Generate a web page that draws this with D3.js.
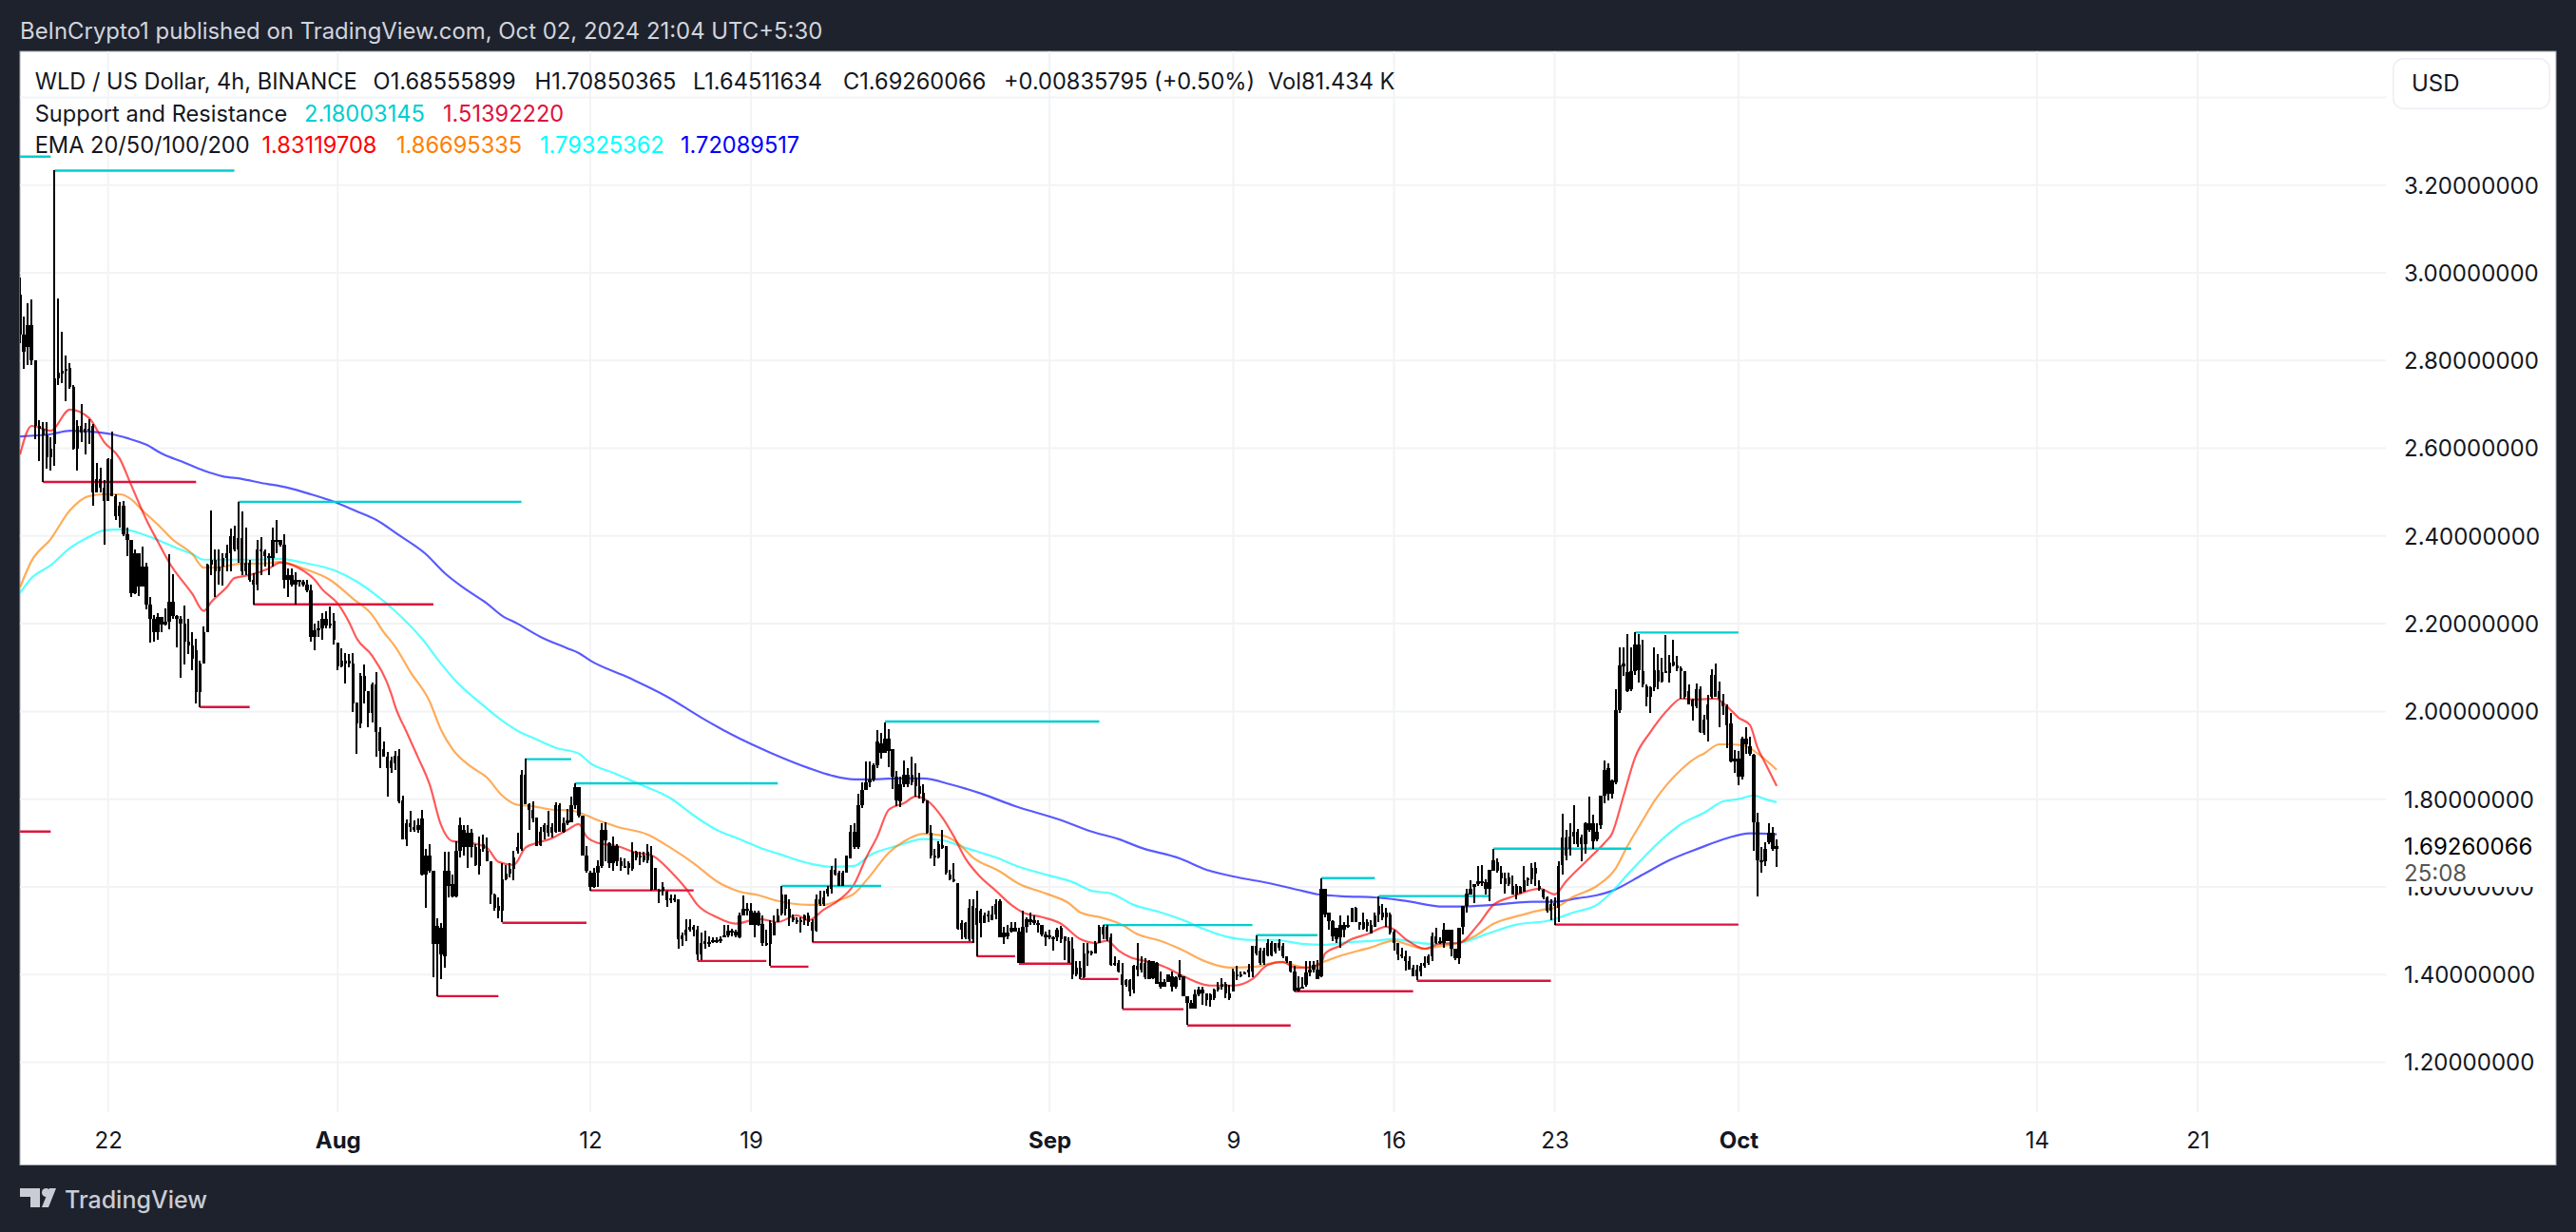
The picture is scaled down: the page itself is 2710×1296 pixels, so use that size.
<!DOCTYPE html>
<html><head><meta charset="utf-8">
<script src="https://cdn.jsdelivr.net/npm/d3@7"></script>
<style>html,body{margin:0;padding:0;background:#1e222d;overflow:hidden}svg{display:block}text{font-family:Inter,sans-serif}</style>
</head><body><svg id="c" width="2710" height="1296"></svg>
<script>
// 4h candles, [open, high, low, close], first bar 18 Jul 04:00 UTC
const candlesJul=[
[2.95,2.99,2.84,2.86],[2.86,2.90,2.78,2.82],[2.83,2.93,2.79,2.88],[2.88,2.94,2.79,2.80],[2.80,2.80,2.62,2.65],[2.65,2.665,2.57,2.645],[2.645,2.66,2.524,2.63],[2.63,2.66,2.553,2.58],[2.58,2.625,2.549,2.60],[2.61,3.233,2.56,2.76],
[2.76,2.942,2.744,2.773],[2.77,2.865,2.748,2.776],[2.776,2.811,2.708,2.78],[2.784,2.795,2.735,2.74],[2.74,2.745,2.596,2.60],[2.60,2.665,2.549,2.65],[2.65,2.70,2.615,2.635],[2.635,2.658,2.585,2.645],[2.645,2.667,2.61,2.64],[2.65,2.655,2.468,2.50],
[2.50,2.567,2.50,2.53],[2.53,2.556,2.50,2.51],[2.51,2.527,2.38,2.48],[2.48,2.578,2.48,2.575],[2.575,2.638,2.49,2.49],[2.49,2.495,2.437,2.445],[2.445,2.477,2.42,2.47],[2.47,2.48,2.40,2.405],[2.405,2.42,2.354,2.39],[2.39,2.39,2.26,2.27],
[2.27,2.37,2.268,2.36],[2.36,2.36,2.264,2.285],[2.285,2.376,2.285,2.33],[2.33,2.34,2.232,2.243],[2.243,2.26,2.156,2.21],[2.21,2.22,2.16,2.18],[2.18,2.224,2.163,2.215],[2.215,2.215,2.18,2.197],[2.197,2.235,2.195,2.205],[2.205,2.358,2.188,2.25],
[2.25,2.313,2.21,2.218],[2.218,2.22,2.145,2.21],[2.21,2.217,2.076,2.20],[2.20,2.242,2.107,2.16],[2.16,2.21,2.13,2.15],[2.15,2.18,2.094,2.12],[2.14,2.166,2.018,2.045],[2.045,2.116,2.01,2.11],[2.11,2.193,2.112,2.18],[2.18,2.337,2.19,2.335],
[2.335,2.459,2.31,2.345],[2.345,2.37,2.26,2.32],[2.32,2.37,2.29,2.33],[2.33,2.36,2.286,2.35],[2.35,2.38,2.32,2.36],[2.36,2.416,2.32,2.40],[2.40,2.423,2.365,2.37],[2.37,2.478,2.34,2.395],[2.395,2.456,2.31,2.32],[2.32,2.42,2.31,2.34],
[2.34,2.345,2.295,2.30],[2.30,2.315,2.244,2.29],[2.29,2.39,2.275,2.37],[2.37,2.398,2.31,2.365],[2.365,2.37,2.33,2.355],[2.355,2.36,2.31,2.35],[2.35,2.42,2.33,2.39],[2.39,2.436,2.36,2.39],[2.39,2.39,2.375,2.38],[2.38,2.405,2.28,2.30],
[2.30,2.325,2.26,2.31],[2.31,2.325,2.285,2.29],[2.29,2.318,2.244,2.30],[2.30,2.30,2.285,2.295],[2.295,2.30,2.285,2.29],[2.29,2.30,2.272,2.275],[2.275,2.29,2.16,2.17],[2.17,2.20,2.14,2.185],[2.185,2.206,2.17,2.19],[2.19,2.224,2.163,2.21],
[2.21,2.228,2.19,2.195],[2.195,2.239,2.19,2.20],[2.206,2.224,2.152,2.163]];
const candlesAug=[
[2.156,2.156,2.094,2.102],[2.102,2.143,2.10,2.116],[2.116,2.134,2.063,2.109],[2.109,2.131,2.10,2.116],[2.109,2.134,1.998,2.019],[2.02,2.02,1.903,1.972],[1.972,2.087,1.961,2.08],[2.08,2.107,2.019,2.047],[2.047,2.047,1.964,1.997],[1.997,2.066,1.975,2.062],
[2.062,2.09,1.896,1.954],[1.954,1.964,1.871,1.91],[1.914,1.932,1.896,1.896],[1.896,1.907,1.806,1.871],[1.871,1.896,1.861,1.889],[1.881,1.91,1.867,1.9],[1.9,1.914,1.791,1.795],[1.798,1.809,1.708,1.708],[1.708,1.753,1.694,1.744],[1.744,1.773,1.726,1.737],
[1.737,1.751,1.726,1.73],[1.73,1.755,1.723,1.741],[1.755,1.775,1.625,1.629],[1.629,1.686,1.553,1.672],[1.672,1.697,1.632,1.636],[1.636,1.636,1.394,1.47],[1.47,1.528,1.351,1.51],[1.506,1.517,1.39,1.445],[1.441,1.679,1.416,1.636],[1.636,1.679,1.575,1.603],
[1.607,1.628,1.575,1.578],[1.578,1.704,1.575,1.683],[1.683,1.759,1.668,1.741],[1.73,1.741,1.672,1.69],[1.69,1.741,1.643,1.723],[1.723,1.733,1.668,1.69],[1.69,1.697,1.647,1.65],[1.647,1.715,1.629,1.686],[1.686,1.719,1.68,1.697],[1.683,1.712,1.658,1.658],
[1.658,1.658,1.56,1.582],[1.582,1.585,1.546,1.553],[1.556,1.575,1.528,1.546],[1.546,1.654,1.519,1.618],[1.618,1.65,1.614,1.63],[1.63,1.654,1.622,1.64],[1.64,1.683,1.614,1.668],[1.683,1.723,1.676,1.69],[1.686,1.866,1.683,1.856],[1.856,1.892,1.788,1.788],
[1.788,1.791,1.73,1.775],[1.775,1.795,1.748,1.755],[1.759,1.759,1.694,1.694],[1.696,1.737,1.694,1.726],[1.726,1.744,1.708,1.741],[1.741,1.773,1.715,1.723],[1.723,1.744,1.712,1.737],[1.726,1.793,1.723,1.787],[1.787,1.791,1.726,1.726],[1.726,1.759,1.723,1.744],
[1.744,1.777,1.741,1.751],[1.748,1.806,1.748,1.787],[1.787,1.836,1.777,1.827],[1.827,1.827,1.758,1.762],[1.762,1.762,1.672,1.672],[1.672,1.694,1.632,1.636],[1.632,1.636,1.591,1.60],[1.60,1.643,1.598,1.632],[1.632,1.661,1.60,1.648],[1.648,1.744,1.643,1.73],
[1.73,1.748,1.658,1.705],[1.70,1.701,1.643,1.655],[1.655,1.715,1.636,1.693],[1.693,1.697,1.647,1.658],[1.658,1.668,1.636,1.647],[1.647,1.665,1.643,1.643],[1.643,1.658,1.629,1.654],[1.64,1.701,1.636,1.679],[1.679,1.683,1.661,1.668],[1.668,1.679,1.65,1.672],
[1.672,1.679,1.657,1.661],[1.661,1.697,1.654,1.679],[1.672,1.693,1.591,1.594],[1.643,1.643,1.594,1.594],[1.594,1.596,1.562,1.591],[1.591,1.61,1.58,1.60],[1.59,1.592,1.555,1.57],[1.57,1.582,1.562,1.573],[1.573,1.582,1.565,1.57],[1.571,1.571,1.46,1.481],
[1.481,1.495,1.466,1.49],[1.49,1.526,1.476,1.503],[1.503,1.526,1.498,1.509],[1.509,1.513,1.488,1.503],[1.503,1.51,1.432,1.445],[1.445,1.495,1.434,1.473],[1.47,1.50,1.459,1.476],[1.474,1.488,1.463,1.47],[1.476,1.484,1.473,1.479],[1.479,1.484,1.473,1.476],
[1.476,1.488,1.473,1.48],[1.484,1.513,1.484,1.49],[1.49,1.513,1.484,1.50],[1.50,1.505,1.488,1.497],[1.497,1.502,1.484,1.49],[1.484,1.542,1.483,1.534],[1.534,1.58,1.534,1.55],[1.55,1.564,1.535,1.548],[1.546,1.564,1.513,1.513],[1.513,1.546,1.484,1.542],
[1.542,1.546,1.51,1.513],[1.515,1.535,1.466,1.473],[1.473,1.502,1.466,1.47],[1.47,1.524,1.419,1.517],[1.49,1.535,1.491,1.52],[1.52,1.549,1.52,1.535],[1.54,1.602,1.535,1.582],[1.582,1.582,1.535,1.55],[1.55,1.571,1.51,1.53],[1.53,1.538,1.52,1.525],
[1.525,1.53,1.516,1.52],[1.52,1.53,1.495,1.524],[1.524,1.538,1.513,1.535],[1.535,1.542,1.51,1.52],[1.52,1.526,1.474,1.50],[1.50,1.582,1.498,1.571],[1.571,1.592,1.556,1.56],[1.56,1.592,1.556,1.575],[1.585,1.603,1.578,1.596],[1.596,1.647,1.585,1.639],
[1.639,1.665,1.625,1.628],[1.632,1.636,1.601,1.603],[1.603,1.636,1.603,1.632],[1.632,1.672,1.632,1.672],[1.665,1.74,1.665,1.726],[1.69,1.744,1.686,1.726],[1.69,1.813,1.686,1.787],[1.787,1.838,1.78,1.82],[1.82,1.885,1.82,1.838],[1.838,1.885,1.827,1.845],
[1.845,1.881,1.841,1.878],[1.878,1.957,1.87,1.932],[1.906,1.95,1.892,1.928],[1.906,1.975,1.906,1.939],[1.91,1.96,1.874,1.939],[1.914,1.914,1.823,1.852],[1.852,1.865,1.784,1.798],[1.795,1.852,1.782,1.834],[1.834,1.888,1.827,1.856],[1.834,1.87,1.827,1.856],
[1.856,1.896,1.831,1.838],[1.829,1.881,1.805,1.849],[1.83,1.86,1.802,1.813],[1.815,1.834,1.791,1.796],[1.798,1.798,1.722,1.724],[1.724,1.74,1.665,1.672],[1.672,1.686,1.647,1.668],[1.668,1.704,1.665,1.697],[1.688,1.73,1.686,1.695],[1.692,1.693,1.628,1.632],
[1.628,1.639,1.614,1.618],[1.618,1.654,1.61,1.613],[1.608,1.608,1.502,1.504],[1.502,1.524,1.48,1.517],[1.517,1.52,1.48,1.484],[1.48,1.571,1.477,1.553],[1.556,1.572,1.473,1.48],[1.513,1.591,1.441,1.553],[1.545,1.549,1.484,1.517],[1.517,1.542,1.517,1.535],
[1.535,1.545,1.52,1.538],[1.524,1.556,1.524,1.538],[1.538,1.572,1.527,1.56],[1.567,1.572,1.484,1.484],[1.484,1.509,1.47,1.495],[1.495,1.513,1.48,1.488],[1.498,1.52,1.495,1.506],[1.506,1.52,1.498,1.499],[1.498,1.506,1.426,1.426],[1.426,1.545,1.426,1.509],
[1.509,1.531,1.495,1.527],[1.52,1.542,1.513,1.527],[1.524,1.535,1.513,1.517],[1.517,1.524,1.495,1.513],[1.513,1.513,1.488,1.491],[1.491,1.498,1.466,1.486]];
const candlesSep=[
[1.486,1.502,1.48,1.49],[1.484,1.488,1.455,1.484],[1.484,1.506,1.477,1.502],[1.48,1.511,1.473,1.506],[1.488,1.488,1.432,1.477],[1.477,1.486,1.426,1.426],[1.46,1.484,1.39,1.401],[1.401,1.43,1.397,1.415],[1.415,1.43,1.389,1.394],[1.394,1.473,1.391,1.448],
[1.448,1.473,1.419,1.455],[1.452,1.455,1.444,1.448],[1.448,1.477,1.448,1.473],[1.473,1.513,1.473,1.509],[1.509,1.513,1.48,1.491],[1.48,1.513,1.477,1.509],[1.484,1.493,1.419,1.423],[1.423,1.441,1.419,1.426],[1.426,1.434,1.405,1.406],[1.401,1.426,1.322,1.376],
[1.376,1.39,1.372,1.387],[1.387,1.39,1.35,1.361],[1.365,1.423,1.358,1.419],[1.419,1.473,1.397,1.412],[1.412,1.441,1.405,1.426],[1.426,1.437,1.39,1.394],[1.39,1.434,1.39,1.43],[1.43,1.43,1.39,1.392],[1.426,1.428,1.379,1.379],[1.383,1.408,1.369,1.372],
[1.372,1.39,1.372,1.383],[1.383,1.401,1.383,1.401],[1.397,1.408,1.361,1.372],[1.372,1.397,1.369,1.394],[1.394,1.434,1.387,1.401],[1.397,1.397,1.35,1.35],[1.35,1.35,1.285,1.336],[1.336,1.343,1.322,1.322],[1.322,1.365,1.322,1.354],[1.354,1.372,1.35,1.365],
[1.365,1.372,1.332,1.358],[1.358,1.358,1.329,1.343],[1.343,1.358,1.327,1.354],[1.347,1.369,1.343,1.365],[1.365,1.383,1.361,1.372],[1.372,1.391,1.365,1.379],[1.379,1.383,1.347,1.358],[1.358,1.376,1.343,1.347],[1.361,1.413,1.361,1.408],[1.40,1.419,1.387,1.396],
[1.396,1.408,1.394,1.401],[1.401,1.408,1.40,1.405],[1.405,1.425,1.394,1.412],[1.408,1.466,1.394,1.466],[1.466,1.489,1.444,1.448],[1.455,1.462,1.423,1.426],[1.426,1.462,1.423,1.455],[1.444,1.48,1.441,1.473],[1.444,1.477,1.441,1.473],[1.473,1.473,1.448,1.452],
[1.462,1.48,1.455,1.473],[1.466,1.473,1.437,1.441],[1.441,1.441,1.426,1.43],[1.43,1.43,1.405,1.408],[1.408,1.419,1.361,1.363],[1.363,1.397,1.361,1.37],[1.37,1.394,1.368,1.372],[1.376,1.43,1.372,1.405],[1.405,1.43,1.397,1.412],[1.412,1.43,1.405,1.423],
[1.412,1.433,1.39,1.39],[1.397,1.62,1.394,1.596],[1.596,1.596,1.531,1.538],[1.542,1.542,1.502,1.522],[1.522,1.524,1.477,1.487],[1.506,1.506,1.473,1.48],[1.484,1.535,1.462,1.513],[1.513,1.52,1.484,1.502],[1.51,1.535,1.506,1.513],[1.52,1.553,1.52,1.553],
[1.553,1.555,1.52,1.52],[1.52,1.52,1.502,1.513],[1.505,1.542,1.502,1.52],[1.51,1.527,1.499,1.52],[1.493,1.524,1.493,1.513],[1.509,1.542,1.509,1.535],[1.538,1.579,1.52,1.556],[1.531,1.56,1.524,1.542],[1.542,1.553,1.509,1.531],[1.536,1.542,1.491,1.496],
[1.499,1.502,1.455,1.473],[1.473,1.473,1.433,1.447],[1.447,1.462,1.437,1.441],[1.441,1.455,1.41,1.43],[1.43,1.441,1.412,1.412],[1.415,1.423,1.397,1.397],[1.397,1.423,1.387,1.412],[1.408,1.426,1.397,1.419],[1.419,1.441,1.415,1.426],[1.426,1.446,1.422,1.441],
[1.441,1.495,1.43,1.488],[1.473,1.506,1.47,1.488],[1.473,1.484,1.47,1.477],[1.473,1.517,1.462,1.502],[1.477,1.502,1.477,1.502],[1.502,1.502,1.441,1.459],[1.459,1.459,1.433,1.437],[1.437,1.506,1.425,1.506],[1.509,1.556,1.491,1.556],[1.556,1.596,1.542,1.585],
[1.582,1.615,1.582,1.596],[1.6,1.607,1.563,1.607],[1.607,1.647,1.603,1.612],[1.612,1.65,1.603,1.61],[1.61,1.618,1.582,1.596],[1.596,1.639,1.567,1.639],[1.636,1.686,1.636,1.661],[1.657,1.665,1.632,1.636],[1.632,1.647,1.607,1.62],[1.62,1.632,1.585,1.607],
[1.607,1.632,1.603,1.621],[1.603,1.625,1.582,1.582],[1.582,1.607,1.571,1.603],[1.585,1.603,1.585,1.6],[1.59,1.647,1.589,1.614],[1.614,1.622,1.603,1.619],[1.617,1.654,1.607,1.643],[1.63,1.657,1.603,1.643],[1.603,1.614,1.592,1.596],[1.593,1.596,1.571,1.575],
[1.575,1.578,1.542,1.546],[1.546,1.571,1.524,1.56],[1.557,1.575,1.513,1.564],[1.553,1.658,1.52,1.647],[1.65,1.766,1.629,1.712],[1.712,1.73,1.661,1.672],[1.686,1.744,1.672,1.715],[1.715,1.786,1.697,1.726],[1.726,1.733,1.69,1.697],[1.697,1.719,1.658,1.712],
[1.697,1.748,1.676,1.744],[1.744,1.806,1.726,1.73],[1.704,1.764,1.686,1.744],[1.708,1.744,1.704,1.726],[1.74,1.809,1.733,1.809],[1.809,1.889,1.791,1.867],[1.813,1.881,1.798,1.871],[1.813,1.845,1.802,1.842],[1.838,2.051,1.834,2.004],[2.004,2.145,1.997,2.105],
[2.109,2.145,2.08,2.102],[2.09,2.177,2.044,2.047],[2.05,2.145,2.047,2.091],[2.091,2.181,2.084,2.152],[2.152,2.177,2.065,2.094],[2.092,2.163,2.055,2.062],[2.058,2.062,2.011,2.033],[2.033,2.058,1.997,2.055],[2.055,2.145,2.047,2.094],[2.069,2.13,2.051,2.094],
[2.069,2.123,2.065,2.089],[2.089,2.174,2.087,2.092],[2.087,2.128,2.065,2.112],[2.104,2.163,2.102,2.114],[2.104,2.127,2.092,2.099],[2.099,2.102,2.029,2.091],[2.091,2.092,2.029,2.033],[2.047,2.062,2.015,2.015],[2.026,2.029,1.979,2.011],[2.011,2.063,2.008,2.051],
[2.051,2.058,1.95,1.954],[1.95,1.993,1.946,1.982],[1.982,2.037,1.932,2.015],[2.033,2.096,2.029,2.084],[2.084,2.109,2.033,2.033],[2.047,2.069,1.964,2.029],[2.022,2.04,1.993,2.011],[2.011,2.015,1.917,1.968],[1.972,1.997,1.883,1.885],[1.892,1.912,1.86,1.885]];
const candlesOct=[
[1.892,1.91,1.831,1.852],[1.852,1.943,1.845,1.939],[1.939,1.964,1.903,1.925],[1.921,1.943,1.9,1.903],[1.902,1.903,1.683,1.748],[1.748,1.77,1.578,1.661],[1.661,1.69,1.632,1.658],[1.658,1.701,1.647,1.686],[1.701,1.744,1.697,1.723],[1.723,1.737,1.683,1.686],[1.6856,1.7085,1.6451,1.6926]];

// moving averages: bar number and price at each read point
const ema20Bars=[0,3,8,13,18,22,26,29,33,36,39,45,48,50,54,56,60,65,68,73,77,79,83,86,88,92,97,98,101,104,107,110,113,118,122,125,129,132,135,139,143,146,148,151,156,161,165,170,174,177,182,187,193,198,203,206,210,214,218,221,224,227,231,234,237,241,244,247,251,255,259,262,267,272,277,281,284,287,290,295,299,304,311,317,322,326,330,333,337,340,341,345,348,352,357,359,362,367,371,376,381,385,390,394,397,401,404,410,414,416,419,422,426,431,434,438,443,447,449,452,454,456,459];
const ema20Vals=[2.586,2.651,2.640,2.688,2.669,2.614,2.577,2.517,2.437,2.387,2.339,2.268,2.229,2.250,2.283,2.304,2.311,2.326,2.339,2.326,2.300,2.278,2.246,2.203,2.166,2.127,2.040,2.012,1.953,1.895,1.834,1.741,1.704,1.700,1.689,1.657,1.650,1.689,1.700,1.711,1.730,1.743,1.715,1.700,1.693,1.678,1.672,1.635,1.596,1.559,1.531,1.516,1.527,1.520,1.535,1.524,1.548,1.570,1.607,1.665,1.715,1.776,1.791,1.806,1.797,1.758,1.715,1.665,1.622,1.591,1.559,1.542,1.531,1.516,1.481,1.472,1.477,1.455,1.440,1.429,1.418,1.396,1.375,1.375,1.390,1.422,1.429,1.416,1.416,1.427,1.448,1.466,1.481,1.492,1.509,1.503,1.481,1.459,1.470,1.472,1.514,1.559,1.578,1.591,1.596,1.583,1.613,1.665,1.700,1.722,1.808,1.895,1.953,2.008,2.029,2.027,2.029,2.003,1.986,1.969,1.917,1.882,1.830];
const ema50Bars=[0,3,8,13,18,22,26,29,32,36,40,45,48,51,58,63,68,74,81,87,92,95,98,102,107,110,113,118,122,126,130,134,139,144,148,151,156,164,170,176,182,188,193,197,206,210,214,218,222,227,231,236,241,245,249,256,261,268,274,277,283,288,292,298,303,310,316,323,329,336,340,344,353,359,362,367,372,376,380,385,392,398,401,406,412,417,420,424,427,434,438,440,444,447,451,454,459];
const ema50Vals=[2.283,2.343,2.393,2.458,2.491,2.495,2.495,2.484,2.458,2.426,2.391,2.359,2.328,2.328,2.337,2.337,2.341,2.326,2.300,2.257,2.220,2.181,2.148,2.090,2.023,1.958,1.914,1.873,1.849,1.808,1.787,1.784,1.776,1.774,1.763,1.752,1.737,1.719,1.689,1.654,1.613,1.589,1.581,1.570,1.559,1.559,1.570,1.585,1.624,1.678,1.704,1.721,1.717,1.700,1.667,1.635,1.607,1.585,1.563,1.542,1.529,1.513,1.492,1.477,1.459,1.429,1.416,1.418,1.429,1.416,1.427,1.440,1.462,1.477,1.470,1.459,1.466,1.472,1.487,1.516,1.535,1.548,1.552,1.578,1.602,1.643,1.693,1.752,1.795,1.867,1.895,1.904,1.925,1.925,1.921,1.904,1.867];
const ema100Bars=[0,3,8,13,18,22,27,32,36,41,45,48,54,61,68,74,82,88,92,98,105,110,114,121,126,130,135,140,146,149,155,162,170,176,182,188,194,198,206,212,218,222,229,236,241,247,255,261,268,275,280,285,291,298,304,309,315,322,328,335,341,347,354,359,364,369,376,383,391,400,406,412,416,420,424,429,434,440,445,449,453,456,459];
const ema100Vals=[2.270,2.304,2.333,2.372,2.398,2.413,2.415,2.404,2.391,2.372,2.359,2.346,2.346,2.346,2.348,2.339,2.322,2.296,2.272,2.229,2.166,2.109,2.068,2.014,1.979,1.956,1.936,1.917,1.904,1.882,1.860,1.834,1.802,1.763,1.730,1.709,1.687,1.676,1.654,1.646,1.648,1.672,1.693,1.709,1.706,1.689,1.667,1.646,1.628,1.611,1.591,1.585,1.559,1.542,1.524,1.505,1.487,1.479,1.479,1.470,1.468,1.474,1.477,1.481,1.474,1.470,1.472,1.492,1.514,1.524,1.542,1.559,1.589,1.628,1.665,1.708,1.743,1.769,1.795,1.800,1.808,1.800,1.793];
const ema200Bars=[0,8,13,18,24,28,33,37,43,48,53,58,63,70,76,82,88,93,99,106,111,116,122,126,130,136,143,146,149,159,169,178,186,196,206,212,218,222,229,236,243,251,260,272,280,287,293,303,310,318,326,335,339,347,354,362,372,376,385,395,401,407,412,416,424,431,439,446,452,459];
const ema200Vals=[2.627,2.632,2.640,2.638,2.632,2.623,2.608,2.588,2.567,2.549,2.536,2.530,2.521,2.510,2.495,2.478,2.456,2.437,2.402,2.359,2.315,2.281,2.246,2.218,2.200,2.170,2.144,2.133,2.116,2.077,2.034,1.986,1.947,1.906,1.871,1.854,1.845,1.845,1.847,1.847,1.834,1.813,1.784,1.752,1.726,1.709,1.689,1.665,1.639,1.622,1.609,1.591,1.583,1.578,1.576,1.568,1.555,1.555,1.559,1.566,1.566,1.574,1.581,1.591,1.628,1.661,1.689,1.711,1.722,1.720];

// pivot levels: first bar, last bar, price
const resistanceStart=[0,9,57,132,145,199,226,283,323,340,355,385,422];
const resistanceEnd=[8,56,131,144,198,225,282,322,339,354,384,421,449];
const resistancePrice=[3.265,3.233,2.478,1.891,1.836,1.602,1.977,1.513,1.490,1.620,1.579,1.687,2.180];
const supportStart=[0,6,47,61,109,126,149,177,196,207,250,261,277,288,305,333,365,401];
const supportEnd=[8,46,60,108,125,148,176,195,206,249,260,275,287,304,332,364,400,449];
const supportPrice=[1.726,2.523,2.010,2.244,1.351,1.518,1.592,1.431,1.418,1.474,1.442,1.425,1.390,1.321,1.284,1.362,1.386,1.514];

const priceTicks=[3.4,3.2,3.0,2.8,2.6,2.4,2.2,2.0,1.8,1.6,1.4,1.2];
const priceLabelTicks=[3.2,3.0,2.8,2.6,2.4,2.2,2.0,1.8,1.6,1.4,1.2];
const dateTicks=[[2024,6,22,"22"],[2024,7,1,"Aug"],[2024,7,12,"12"],[2024,7,19,"19"],[2024,8,1,"Sep"],[2024,8,9,"9"],[2024,8,16,"16"],[2024,8,23,"23"],[2024,9,1,"Oct"],[2024,9,14,"14"],[2024,9,21,"21"]];
const lastPrice=1.69260066, lastPriceLabel="1.69260066", countdown="25:08";
const publishLine="BeInCrypto1 published on TradingView.com, Oct 02, 2024 21:04 UTC+5:30";
const legendOhlc=["WLD / US Dollar, 4h, BINANCE","O1.68555899","H1.70850365","L1.64511634","C1.69260066","+0.00835795 (+0.50%)","Vol81.434 K"];
const legendSr=["Support and Resistance","2.18003145","1.51392220"];
const legendEma=["EMA 20/50/100/200","1.83119708","1.86695335","1.79325362","1.72089517"];

const BG="#1e222d",INK="#131722",GRID="#f2f3f5";
const TEAL="#00ced1",CRIMSON="#dc143c",RED="#ff0000",ORANGE="#ff8000",CYAN="#00ffff",BLUE="#0000ff";

const candles=[...candlesJul,...candlesAug,...candlesSep,...candlesOct];
const barTime=i=>new Date(Date.UTC(2024,6,18,4)+i*4*3600e3);
const x=d3.scaleUtc().domain([new Date(Date.UTC(2024,6,22)),new Date(Date.UTC(2024,9,21))]).range([113.7,2312]);
const y=d3.scaleLinear().domain([3.2,1.2]).range([194.7,1117.5]);
const panel={l:21,t:54,r:2689,b:1225.5,plotR:2510,plotB:1170};

const svg=d3.select("#c");
svg.append("rect").attr("width",2710).attr("height",1296).attr("fill",BG);
svg.append("text").attr("x",21).attr("y",32).attr("dominant-baseline","central").attr("font-size",23.9).attr("fill","#d1d4dc").text(publishLine);
svg.append("rect").attr("x",panel.l).attr("y",panel.t).attr("width",panel.r-panel.l).attr("height",panel.b-panel.t).attr("fill","#fff").attr("stroke","#a3a6af").attr("stroke-width",1);

svg.append("defs").append("clipPath").attr("id","plot").append("rect").attr("x",panel.l).attr("y",panel.t).attr("width",panel.plotR-panel.l).attr("height",panel.plotB-panel.t);
const plot=svg.append("g").attr("clip-path","url(#plot)");

plot.append("g").selectAll("line").data(priceTicks).join("line")
 .attr("x1",panel.l).attr("x2",panel.plotR).attr("y1",d=>y(d)).attr("y2",d=>y(d)).attr("stroke",GRID).attr("stroke-width",2);
const dateOf=d=>new Date(Date.UTC(d[0],d[1],d[2]));
plot.append("g").selectAll("line").data(dateTicks).join("line")
 .attr("x1",d=>x(dateOf(d))).attr("x2",d=>x(dateOf(d))).attr("y1",panel.t).attr("y2",panel.plotB).attr("stroke",GRID).attr("stroke-width",2);

function ema(bars,vals,color){
  const line=d3.line().x(d=>x(barTime(d[0]))).y(d=>y(d[1])).curve(d3.curveMonotoneX);
  plot.append("path").attr("d",line(bars.map((b,i)=>[b,vals[i]]))).attr("fill","none").attr("stroke",color).attr("stroke-opacity",0.65).attr("stroke-width",2.2);
}
ema(ema200Bars,ema200Vals,BLUE);
ema(ema100Bars,ema100Vals,CYAN);
ema(ema50Bars,ema50Vals,ORANGE);
ema(ema20Bars,ema20Vals,RED);

function levels(starts,ends,prices,color){
  plot.append("g").selectAll("line").data(starts.map((s,i)=>[s,ends[i],prices[i]])).join("line")
   .attr("x1",d=>x(barTime(d[0]))).attr("x2",d=>x(barTime(d[1]))).attr("y1",d=>y(d[2])).attr("y2",d=>y(d[2]))
   .attr("stroke",color).attr("stroke-width",2.4);
}
levels(resistanceStart,resistanceEnd,resistancePrice,TEAL);
levels(supportStart,supportEnd,supportPrice,CRIMSON);

const cg=plot.append("g").attr("fill","#000").attr("shape-rendering","crispEdges");
cg.selectAll("rect.w").data(candles).join("rect").attr("class","w")
 .attr("x",(d,i)=>x(barTime(i))-1).attr("width",2)
 .attr("y",d=>y(d[1])).attr("height",d=>Math.max(1,y(d[2])-y(d[1])));
cg.selectAll("rect.b").data(candles).join("rect").attr("class","b")
 .attr("x",(d,i)=>x(barTime(i))-1.7).attr("width",3.4)
 .attr("y",d=>y(Math.max(d[0],d[3]))).attr("height",d=>Math.max(2,Math.abs(y(d[0])-y(d[3]))));

// price axis
const ya=d3.axisRight(y).tickValues(priceLabelTicks).tickFormat(d=>d.toFixed(8)).tickSize(0).tickPadding(0);
const yg=svg.append("g").attr("transform","translate(2529,0)").call(ya);
yg.select(".domain").remove();
yg.selectAll("text").attr("font-size",24).attr("fill",INK).attr("font-family","Inter,sans-serif").attr("dy","0.35em").attr("x",0);

// last price label
svg.append("rect").attr("x",2512).attr("y",y(lastPrice)-18).attr("width",176).attr("height",933-(y(lastPrice)-18)).attr("fill","#fff");
svg.append("text").attr("x",2529).attr("y",y(lastPrice)).attr("dy","0.35em").attr("font-size",24).attr("fill","#000").text(lastPriceLabel);
svg.append("text").attr("x",2529).attr("y",919).attr("dy","0.35em").attr("font-size",24).attr("fill","#555").text(countdown);

// USD button
svg.append("rect").attr("x",2517.7).attr("y",61.7).attr("width",164.5).attr("height",52.5).attr("rx",11).attr("fill","#fff").attr("stroke","#eceef3").attr("stroke-width",1.5);
svg.append("text").attr("x",2537).attr("y",88).attr("dy","0.35em").attr("font-size",24).attr("fill",INK).text("USD");

// time axis
const xa=d3.axisBottom(x).tickValues(dateTicks.map(dateOf)).tickFormat((d,i)=>dateTicks[i][3]).tickSize(0).tickPadding(0);
const xg=svg.append("g").attr("transform","translate(0,1200)").call(xa);
xg.select(".domain").remove();
xg.selectAll("text").attr("font-size",24).attr("fill",INK).attr("font-family","Inter,sans-serif").attr("dy","0.35em").attr("y",0)
  .attr("font-weight",(d,i)=>isNaN(+dateTicks[i][3])?700:400);

// legend
function legendRow(items,xs,yc,colors){
  items.forEach((t,i)=>svg.append("text").attr("x",xs[i]).attr("y",yc).attr("dy","0.35em").attr("font-size",23.6).attr("fill",colors[i]).text(t));
}
legendRow(legendOhlc,[36.7,392.6,562.6,729,887,1056,1334],85.7,[INK,INK,INK,INK,INK,INK,INK]);
legendRow(legendSr,[36.7,320,466],120,[INK,TEAL,CRIMSON]);
legendRow(legendEma,[36.7,275.5,417,568,716],153,[INK,RED,ORANGE,CYAN,BLUE]);

// footer
const logo=svg.append("g").attr("fill","#c9ccd4");
logo.append("path").attr("d","M21 1250H42V1270H32V1259H21Z");
logo.append("circle").attr("cx",48.5).attr("cy",1254.5).attr("r",4.5);
logo.append("path").attr("d","M44 1270L52 1250H59L51 1270Z");
svg.append("text").attr("x",68).attr("y",1262).attr("dy","0.35em").attr("font-size",25).attr("font-weight",500).attr("fill","#c9ccd4").text("TradingView");
</script></body></html>
